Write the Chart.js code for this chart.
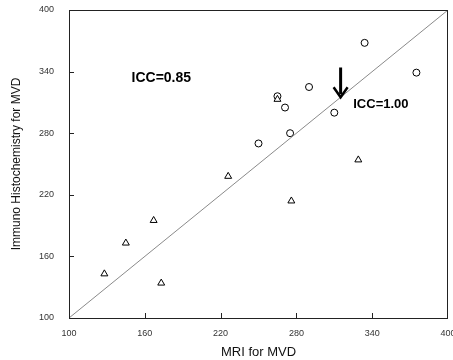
<!DOCTYPE html>
<html>
<head>
<meta charset="utf-8">
<script src="https://cdn.jsdelivr.net/npm/chart.js@4.4.0/dist/chart.umd.min.js"></script>
<style>
  body { margin: 0; background: #fff; }
  canvas { display: block; }
</style>
</head>
<body>
<canvas id="icc" width="453" height="360"></canvas>
<script>
// MRI vs immunohistochemistry MVD values
var circX = [334, 375, 290, 265, 271, 310, 275, 250];
var circY = [368, 339, 325, 316, 305, 300, 280, 270];
var triX = [265, 329, 226, 276, 167, 145, 128, 173];
var triY = [313, 254, 238, 214, 195, 173, 143, 134];
var lineX = [100, 400];
var lineY = [100, 400];
var tickVals = [100, 160, 220, 280, 340, 400];

// annotations in data units
var notes = [
    { text: 'ICC=0.85', x: 149.5, y: 334, size: 14 },
    { text: 'ICC=1.00', x: 325, y: 308.5, size: 13 }
];
var arrowX = 315, arrowFrom = 344, arrowTo = 315;

function pts(xs, ys) {
    return xs.map(function (v, i) { return { x: v, y: ys[i] }; });
}

Chart.defaults.font.family = "Arial, 'Liberation Sans', sans-serif";

// box, inward ticks, text and the arrow
var extras = {
    id: 'extras',
    afterDraw: function (chart) {
        var c = chart.ctx;
        var a = chart.chartArea;
        var sx = chart.scales.x, sy = chart.scales.y;
        c.save();
        c.strokeStyle = '#222';
        c.lineWidth = 1;
        c.strokeRect(a.left + 0.5, a.top + 0.5, a.right - a.left - 1, a.bottom - a.top);
        c.beginPath();
        tickVals.slice(1, -1).forEach(function (v) {
            var px = Math.round(sx.getPixelForValue(v)) + 0.5;
            c.moveTo(px, a.bottom);
            c.lineTo(px, a.bottom - 5);
            var py = Math.round(sy.getPixelForValue(v)) + 0.5;
            c.moveTo(a.left, py);
            c.lineTo(a.left + 5, py);
        });
        c.stroke();

        c.fillStyle = '#000';
        c.textBaseline = 'middle';
        notes.forEach(function (n) {
            c.font = 'bold ' + n.size + "px Arial, 'Liberation Sans', sans-serif";
            c.fillText(n.text, sx.getPixelForValue(n.x), sy.getPixelForValue(n.y));
        });

        var ax = sx.getPixelForValue(arrowX);
        var y0 = sy.getPixelForValue(arrowFrom);
        var y1 = sy.getPixelForValue(arrowTo);
        c.strokeStyle = '#000';
        c.lineWidth = 3;
        c.beginPath();
        c.moveTo(ax, y0);
        c.lineTo(ax, y1 - 3);
        c.stroke();
        c.lineWidth = 2.5;
        c.beginPath();
        c.moveTo(ax - 7, y1 - 10);
        c.lineTo(ax, y1);
        c.lineTo(ax + 7, y1 - 10);
        c.stroke();
        c.restore();
    }
};

new Chart(document.getElementById('icc'), {
    type: 'scatter',
    data: {
        datasets: [{
            type: 'line',
            data: pts(lineX, lineY),
            borderColor: '#8a8a8a',
            borderWidth: 1,
            pointRadius: 0,
            fill: false
        }, {
            data: pts(triX, triY),
            pointStyle: 'triangle',
            pointRadius: 4,
            borderColor: '#000',
            backgroundColor: '#fff',
            borderWidth: 1
        }, {
            data: pts(circX, circY),
            pointStyle: 'circle',
            pointRadius: 3.5,
            borderColor: '#000',
            backgroundColor: '#fff',
            borderWidth: 1
        }]
    },
    options: {
        responsive: false,
        animation: false,
        layout: { padding: { left: 0, top: 10, right: 5, bottom: 0 } },
        plugins: {
            legend: { display: false },
            tooltip: { enabled: false }
        },
        scales: {
            x: {
                type: 'linear',
                min: 100,
                max: 400,
                afterBuildTicks: function (s) { s.ticks = tickVals.map(function (v) { return { value: v }; }); },
                ticks: { font: { size: 9 }, color: '#333', padding: 10, maxRotation: 0 },
                grid: { display: false, drawTicks: false },
                border: { display: false },
                title: { display: true, text: 'MRI for MVD', font: { size: 13 }, color: '#111', padding: { top: 0, bottom: 0 } },
                afterFit: function (s) { s.height = 42; s.paddingLeft = 0; s.paddingRight = 0; }
            },
            y: {
                type: 'linear',
                min: 100,
                max: 400,
                afterBuildTicks: function (s) { s.ticks = tickVals.map(function (v) { return { value: v }; }); },
                ticks: { font: { size: 9 }, color: '#333', padding: 15 },
                grid: { display: false, drawTicks: false },
                border: { display: false },
                title: { display: true, text: 'Immuno Histochemistry for MVD', font: { size: 12 }, color: '#111', padding: { top: 9, bottom: 0 } },
                afterFit: function (s) { s.width = 69; s.paddingTop = 0; s.paddingBottom = 0; }
            }
        }
    },
    plugins: [extras]
});
</script>
</body>
</html>
